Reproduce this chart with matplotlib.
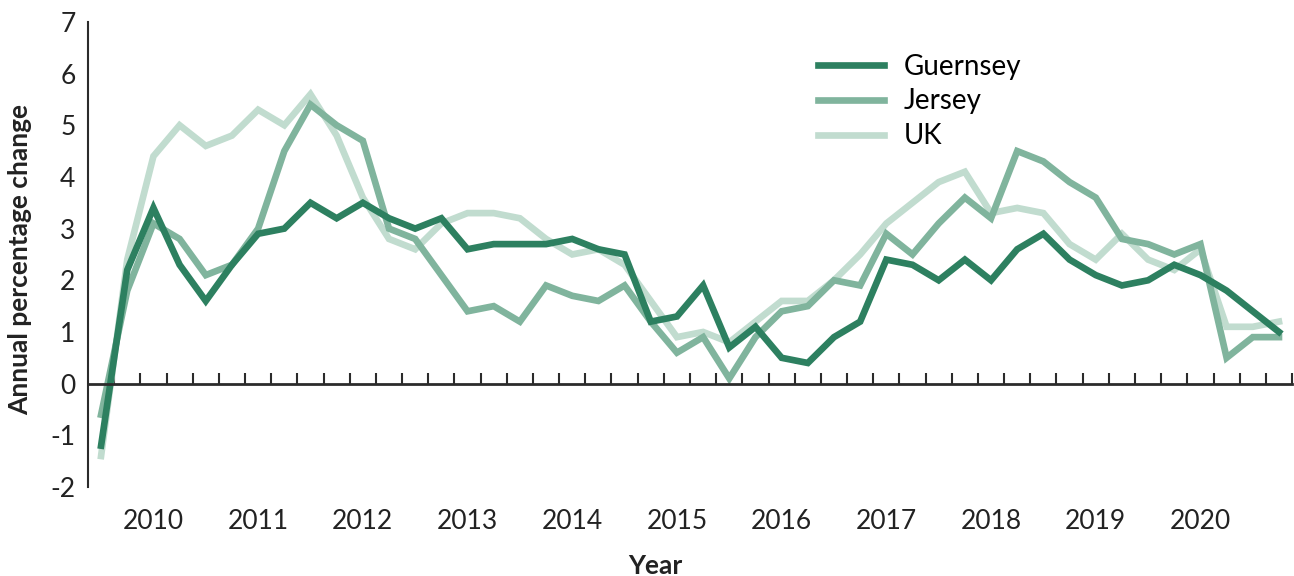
import matplotlib
matplotlib.use('Agg')
import matplotlib.pyplot as plt
import matplotlib.transforms as mtransforms
import numpy as np

matplotlib.rcParams['font.family'] = ['Lato', 'DejaVu Sans']
matplotlib.rcParams['axes.unicode_minus'] = False

# Quarterly annual % change, Q3 2009 .. Q4 2020
guernsey = [-1.2, 2.2, 3.4, 2.3, 1.6, 2.3, 2.9, 3.0, 3.5, 3.2, 3.5, 3.2, 3.0, 3.2,
            2.6, 2.7, 2.7, 2.7, 2.8, 2.6, 2.5, 1.2, 1.3, 1.9, 0.7, 1.1, 0.5, 0.4,
            0.9, 1.2, 2.4, 2.3, 2.0, 2.4, 2.0, 2.6, 2.9, 2.4, 2.1, 1.9, 2.0, 2.3,
            2.1, 1.8, 1.4, 1.0]
jersey = [-0.6, 1.8, 3.1, 2.8, 2.1, 2.3, 3.0, 4.5, 5.4, 5.0, 4.7, 3.0, 2.8, 2.1,
          1.4, 1.5, 1.2, 1.9, 1.7, 1.6, 1.9, 1.2, 0.6, 0.9, 0.1, 0.9, 1.4, 1.5,
          2.0, 1.9, 2.9, 2.5, 3.1, 3.6, 3.2, 4.5, 4.3, 3.9, 3.6, 2.8, 2.7, 2.5,
          2.7, 0.5, 0.9, 0.9]
uk = [-1.4, 2.4, 4.4, 5.0, 4.6, 4.8, 5.3, 5.0, 5.6, 4.8, 3.6, 2.8, 2.6, 3.1,
      3.3, 3.3, 3.2, 2.8, 2.5, 2.6, 2.3, 1.6, 0.9, 1.0, 0.8, 1.2, 1.6, 1.6,
      2.0, 2.5, 3.1, 3.5, 3.9, 4.1, 3.3, 3.4, 3.3, 2.7, 2.4, 2.9, 2.4, 2.2,
      2.6, 1.1, 1.1, 1.2]
year_labels = ['2010', '2011', '2012', '2013', '2014', '2015', '2016', '2017',
               '2018', '2019', '2020']
year_label_idx = [2, 6, 10, 14, 18, 22, 26, 30, 34, 38, 42]

COLOR_GUERNSEY = '#2d8060'
COLOR_JERSEY = '#80b49d'
COLOR_UK = '#c1dccf'
AXIS_COLOR = '#2b2b2b'
FS = 19

x = np.arange(len(guernsey))

fig = plt.figure(figsize=(12.94, 5.76), dpi=100)
ax = fig.add_axes([0.068, 0.1545, 0.9305, 0.8075])

l_uk, = ax.plot(x, uk, color=COLOR_UK, linewidth=4.8, label='UK', solid_joinstyle='miter')
l_je, = ax.plot(x, jersey, color=COLOR_JERSEY, linewidth=4.8, label='Jersey', solid_joinstyle='miter')
l_gu, = ax.plot(x, guernsey, color=COLOR_GUERNSEY, linewidth=4.8, label='Guernsey', solid_joinstyle='miter')

ax.set_xlim(-0.5, len(x) - 0.5)
ax.set_ylim(-2, 7)

# spines
ax.spines['top'].set_visible(False)
ax.spines['right'].set_visible(False)
ax.spines['left'].set_color(AXIS_COLOR)
ax.spines['left'].set_linewidth(1.5)
ax.spines['bottom'].set_position(('data', 0))
ax.spines['bottom'].set_color(AXIS_COLOR)
ax.spines['bottom'].set_linewidth(2)

# category boundary ticks on the zero line
ax.set_xticks(np.arange(0.5, len(x), 1))
ax.set_xticklabels([])
ax.tick_params(axis='x', direction='in', length=8, width=1.5, color=AXIS_COLOR)

ax.set_yticks(range(-2, 8))
ax.tick_params(axis='y', length=0, labelsize=FS, pad=9, labelcolor='#222222')

# year labels below the plot
trans = mtransforms.blended_transform_factory(ax.transData, ax.transAxes)
for idx, lab in zip(year_label_idx, year_labels):
    ax.text(idx, -0.075, lab, transform=trans, ha='center', va='center',
            fontsize=FS, color='#222222')

ax.set_xlabel('Year', fontsize=FS, fontweight='bold', color='#222222')
ax.xaxis.set_label_coords(0.471, -0.145)
ax.set_ylabel('Annual percentage change', fontsize=FS, fontweight='bold', color='#222222')
ax.yaxis.set_label_coords(-0.046, 0.49)

ax.legend([l_gu, l_je, l_uk], ['Guernsey', 'Jersey', 'UK'], loc='upper left',
          bbox_to_anchor=(0.606, 0.932), frameon=False, fontsize=20,
          handlelength=2.4, handletextpad=0.7, labelspacing=0.32,
          borderpad=0, borderaxespad=0)

fig.savefig('out.png', dpi=100, facecolor='white')
